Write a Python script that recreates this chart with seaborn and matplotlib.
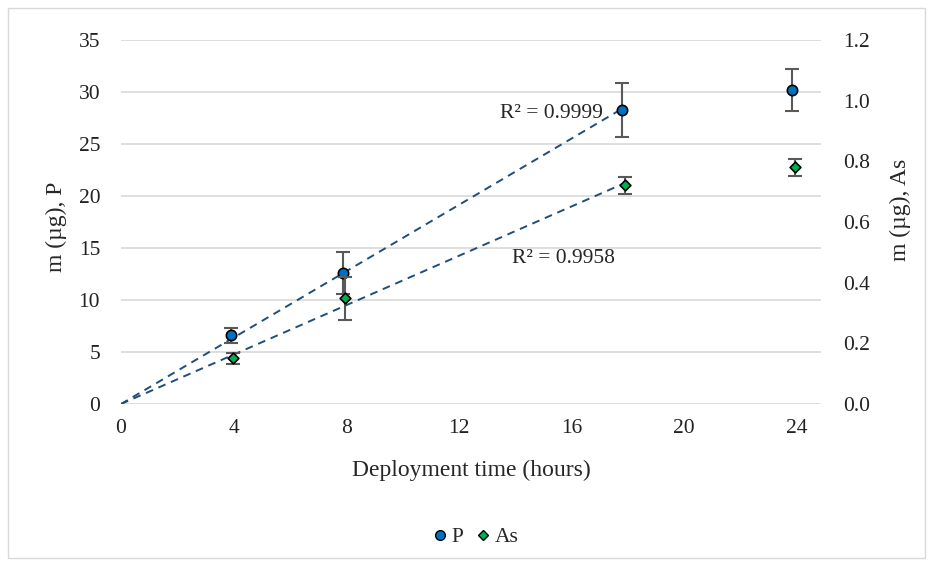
import numpy as np
import pandas as pd
import matplotlib
matplotlib.use("Agg")
import matplotlib.pyplot as plt
from matplotlib.lines import Line2D
from matplotlib.patches import Rectangle
import seaborn as sns

# values
p_time = [3.9, 7.9, 17.8, 23.85]
p_mass = [6.6, 12.6, 28.3, 30.2]
p_err = [0.7, 2.0, 2.6, 2.0]

as_time = [3.97, 7.97, 17.92, 23.93]
as_mass = [0.151, 0.348, 0.721, 0.780]
as_err = [0.018, 0.07, 0.028, 0.029]

r2_p = "R² = 0.9999"
r2_as = "R² = 0.9958"

sns.set_style("white")
plt.rcParams['font.family'] = ['Liberation Serif', 'DejaVu Serif']

df_p = pd.DataFrame({"t": p_time, "m": p_mass})
df_as = pd.DataFrame({"t": as_time, "m": as_mass})

fig = plt.figure(figsize=(9.33, 5.66), dpi=100)
fig.patches.append(Rectangle((8/933, 8/566), 917/933, 550/566, transform=fig.transFigure,
                             fill=False, edgecolor="#d9d9d9", lw=1))
ax = fig.add_axes([121/933, 1-404/566, 700/933, 364/566])
ax2 = ax.twinx()

# trendlines through the origin, fitted on the first three points
def origin_fit(x, y):
    x = np.array(x[:3]); y = np.array(y[:3])
    return (x * y).sum() / (x * x).sum()

kp = origin_fit(p_time, p_mass)
ka = origin_fit(as_time, as_mass)
sns.lineplot(x=[0, p_time[2]], y=[0, kp * p_time[2]], ax=ax, color="#1f4e79",
             linestyle=(0, (4, 3)), lw=1.4, zorder=3)
sns.lineplot(x=[0, as_time[2]], y=[0, ka * as_time[2]], ax=ax2, color="#1f4e79",
             linestyle=(0, (4, 3)), lw=1.4, zorder=3)

ax.errorbar(p_time, p_mass, yerr=p_err, fmt="none", ecolor="#595959", elinewidth=1.5,
            capsize=5, capthick=1.5, zorder=4)
ax2.errorbar(as_time, as_mass, yerr=as_err, fmt="none", ecolor="#595959", elinewidth=1.5,
             capsize=5, capthick=1.5, zorder=4)

sns.scatterplot(data=df_p, x="t", y="m", ax=ax, marker="o", s=55, color="#0070c0",
                edgecolor="black", linewidth=1.2, zorder=5)
sns.scatterplot(data=df_as, x="t", y="m", ax=ax2, marker="D", s=30, color="#00b050",
                edgecolor="black", linewidth=1.2, zorder=5)

ax.set_xlim(0, 24.87)
ax.set_ylim(0, 35)
ax2.set_ylim(0, 1.2)
ax.set_xticks(range(0, 25, 4))
ax.set_yticks(range(0, 36, 5))
ax2.set_yticks(np.arange(0, 1.21, 0.2))
ax2.set_yticklabels([f"{v:.1f}" for v in np.arange(0, 1.21, 0.2)])

ax.grid(axis="y", color="#d9d9d9", lw=1.2)
ax.grid(axis="x", visible=False)
for a in (ax, ax2):
    for s in a.spines.values():
        s.set_visible(False)
    a.tick_params(length=0, labelsize=15.5, colors="#222222")
ax.tick_params(axis="y", pad=15)
ax.tick_params(axis="x", pad=11)
ax2.tick_params(axis="y", pad=16)

ax.set_xlabel("Deployment time (hours)", fontsize=17)
ax.set_ylabel("m (µg), P", fontsize=17)
ax2.set_ylabel("m (µg), As", fontsize=17)
ax.xaxis.set_label_coords(0.5, (404 - 470) / 364)
ax.yaxis.set_label_coords((56 - 121) / 700, (404 - 227) / 364)
ax2.yaxis.set_label_coords((900 - 121) / 700, (404 - 210) / 364)
ax.xaxis.label.set_va("center")
ax.yaxis.label.set_va("center")
ax2.yaxis.label.set_va("center")

fig.text(603/933, 1-113/566, r2_p, ha="right", va="center", fontsize=15.5)
fig.text(512/933, 1-259/566, r2_as, ha="left", va="center", fontsize=15.5)

handles = [Line2D([], [], marker="o", ls="", markersize=7, markerfacecolor="#0070c0",
                  markeredgecolor="black", label="P"),
           Line2D([], [], marker="D", ls="", markersize=5.5, markerfacecolor="#00b050",
                  markeredgecolor="black", label="As")]
fig.legend(handles=handles, loc="center", bbox_to_anchor=(474/933, 1-537/566), ncol=2,
           frameon=False, fontsize=15.5, handletextpad=0.05, columnspacing=0.4,
           handlelength=1.0)

fig.savefig("out.png", dpi=100)
